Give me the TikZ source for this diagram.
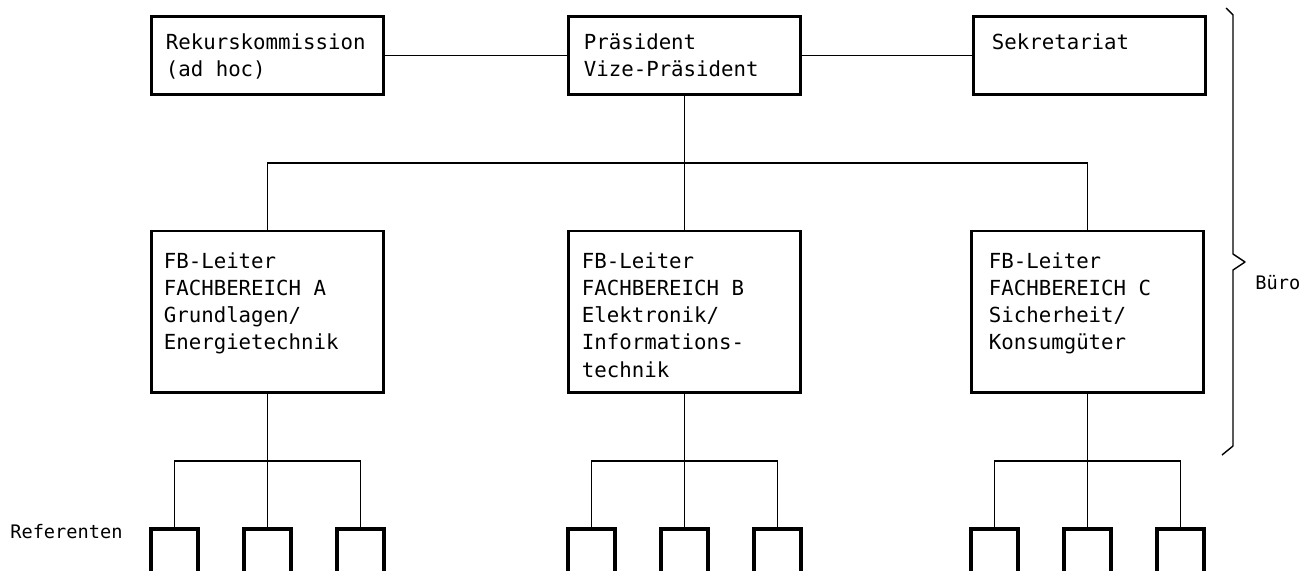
\documentclass[tikz,border=0pt]{standalone}
\usepackage{fontspec}
\newfontfamily\typewriter{DejaVu Sans Mono}
\usetikzlibrary{positioning}

\begin{document}
\begin{tikzpicture}[
    x=0.2mm, y=-0.2mm,
    unit/.style={draw, line width=1.7pt, outer sep=0pt, inner sep=0pt, minimum width=46.4mm},
    topunit/.style={unit, minimum height=15.6mm},
    fbunit/.style={unit, minimum height=32.2mm},
    ref/.style={draw, line width=1.8pt, outer sep=0pt, inner sep=0pt, minimum width=9.4mm, minimum height=14mm},
    lbl/.style={anchor=north west, inner sep=0pt, align=left, font=\typewriter\fontsize{11.8}{15.5}\selectfont},
    side/.style={anchor=west, inner sep=0pt, font=\typewriter\fontsize{10.6}{13}\selectfont},
    link/.style={line width=0.8pt}]
\useasboundingbox (0,0) rectangle (1311,571);
\clip (0,0) rectangle (1311,571);
\fill[white] (0,0) rectangle (1311,571);
\node[topunit] (praes) at (684.5,55.5) {};
\node[topunit, left=37mm of praes] (rekurs) {};
\node[topunit, right=34.6mm of praes] (sekr) {};
\node[fbunit, below=27.3mm of praes] (fbB) {};
\node[fbunit, left=37mm of fbB] (fbA) {};
\node[fbunit, right=34.2mm of fbB] (fbC) {};
\node[lbl] (rekursT) at ([shift={(14,17)}]rekurs.north west) {Rekurskommission\\(ad hoc)};
\node[lbl] (praesT) at ([shift={(15,17)}]praes.north west) {Präsident\\Vize-Präsident};
\node[lbl] (sekrT) at ([shift={(18,17)}]sekr.north west) {Sekretariat};
\node[lbl] (fbAT) at ([shift={(12,21)}]fbA.north west) {FB-Leiter\\FACHBEREICH A\\Grundlagen/\\Energietechnik};
\node[lbl] (fbBT) at ([shift={(13,21)}]fbB.north west) {FB-Leiter\\FACHBEREICH B\\Elektronik/\\Informations-\\technik};
\node[lbl] (fbCT) at ([shift={(17,21)}]fbC.north west) {FB-Leiter\\FACHBEREICH C\\Sicherheit/\\Konsumgüter};
\coordinate (bus) at (684.5,163);
\draw[link] (rekurs) -- (praes);
\draw[link] (praes) -- (sekr);
\draw[link] (praes) -- (fbB);
\draw[link] (fbA) |- (bus) -| (fbC);
\foreach \g in {A,B,C} {
  \node[ref, below=27.4mm of fb\g] (r\g2) {};
  \node[ref, left=9.2mm of r\g2] (r\g1) {};
  \node[ref, right=9.2mm of r\g2] (r\g3) {};
  \coordinate[below=13.8mm of fb\g.south] (j\g);
  \draw[link] (fb\g) -- (r\g2);
  \draw[link] (r\g1) |- (j\g) -| (r\g3);
}
\node[side] (referenten) at (10,532) {Referenten};
\node[side] (buero) at (1255,283) {Büro};
\draw[link, line join=round] (1226,8) -- (1233,15) -- (1233,254) -- (1245,262) -- (1233,270) -- (1233,446) -- (1222,455);
\end{tikzpicture}
\end{document}
